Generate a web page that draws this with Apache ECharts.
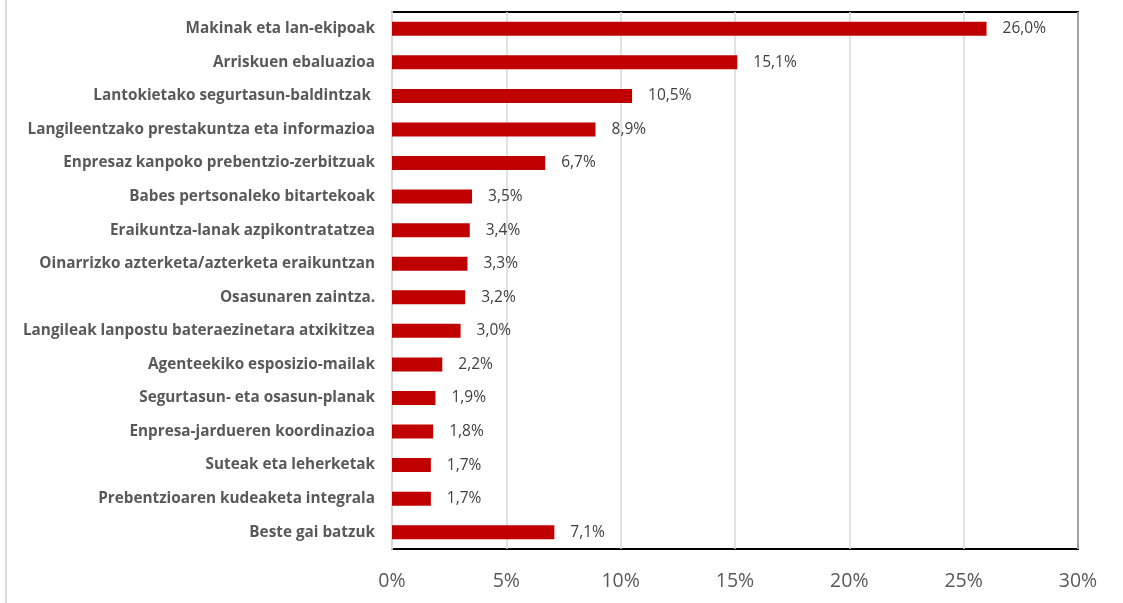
<!DOCTYPE html>
<html><head><meta charset="utf-8">
<script src="https://cdn.jsdelivr.net/npm/echarts@6/dist/echarts.min.js"></script>
<style>html,body{margin:0;padding:0;background:#fff}#c{width:1123px;height:603px}</style>
</head><body><div id="c"></div>
<script>
const categories = [
  "Makinak eta lan-ekipoak",
  "Arriskuen ebaluazioa",
  "Lantokietako segurtasun-baldintzak ",
  "Langileentzako prestakuntza eta informazioa",
  "Enpresaz kanpoko prebentzio-zerbitzuak",
  "Babes pertsonaleko bitartekoak",
  "Eraikuntza-lanak azpikontratatzea",
  "Oinarrizko azterketa/azterketa eraikuntzan",
  "Osasunaren zaintza.",
  "Langileak lanpostu bateraezinetara atxikitzea",
  "Agenteekiko esposizio-mailak",
  "Segurtasun- eta osasun-planak",
  "Enpresa-jardueren koordinazioa",
  "Suteak eta leherketak",
  "Prebentzioaren kudeaketa integrala",
  "Beste gai batzuk"
];
const values = [26.0, 15.1, 10.5, 8.9, 6.7, 3.5, 3.4, 3.3, 3.2, 3.0, 2.2, 1.9, 1.8, 1.7, 1.7, 7.1];
const xTicks = [0, 5, 10, 15, 20, 25, 30];

const chart = echarts.init(document.getElementById('c'));
const FONT = '"Open Sans"';
chart.setOption({
  animation: false,
  grid: {left: 392, right: 45, top: 12, bottom: 54, show: true, borderColor: '#000', borderWidth: 2, containLabel: false},
  graphic: [{type: 'rect', shape: {x: 5, y: 0, width: 2, height: 603}, style: {fill: '#d9d9d9'}}],
  xAxis: {
    type: 'value', min: xTicks[0], max: xTicks[xTicks.length - 1], interval: 5,
    axisLine: {show: false}, axisTick: {show: false},
    splitLine: {show: true, lineStyle: {color: '#d9d9d9', width: 1.5}},
    axisLabel: {formatter: v => v + '%', color: '#595959', fontSize: 19.5, fontFamily: FONT, margin: 22}
  },
  yAxis: {
    type: 'category', data: categories, inverse: true,
    axisLine: {show: true, lineStyle: {color: '#d9d9d9', width: 2}},
    axisTick: {show: false},
    axisLabel: {color: '#595959', fontSize: 15.3, fontWeight: 'bold', fontFamily: FONT, margin: 17}
  },
  series: [{
    type: 'bar', data: values, barWidth: 14,
    itemStyle: {color: '#C00000'},
    label: {show: true, position: 'right', distance: 16, color: '#404040', fontSize: 15.5, fontFamily: FONT,
      formatter: p => p.value.toFixed(1).replace('.', ',') + '%'}
  }]
});
</script></body></html>
